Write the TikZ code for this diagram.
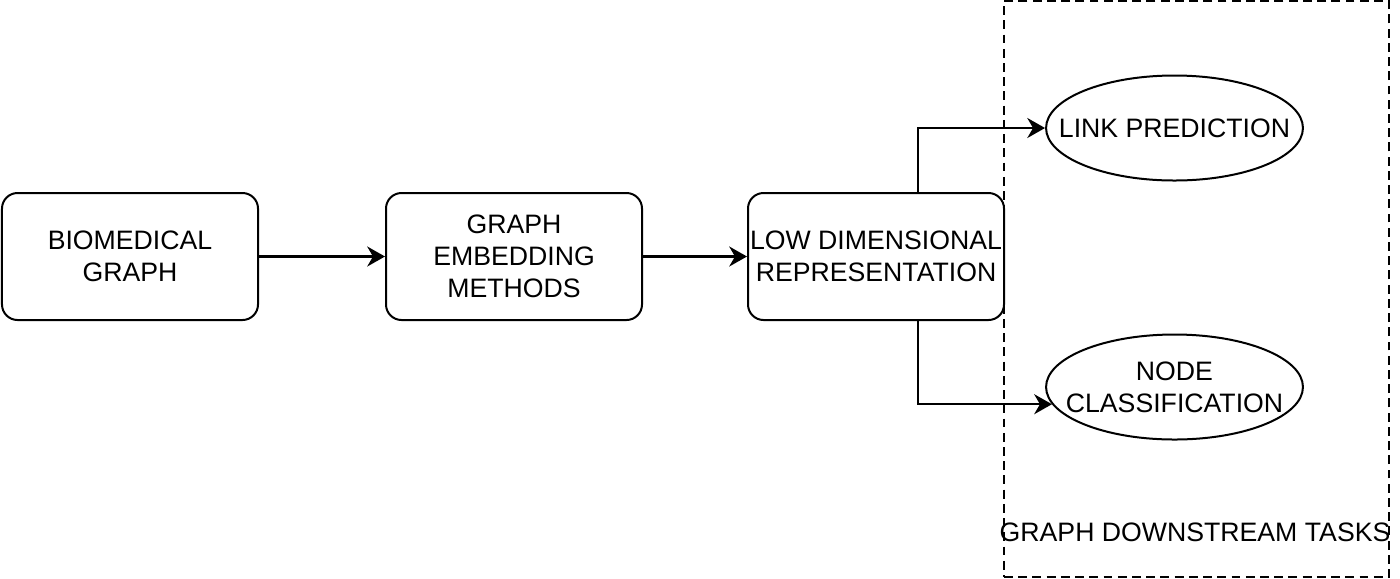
\documentclass[tikz,border=0pt]{standalone}
\usepackage{fontspec}
\setmainfont{Liberation Sans}
\usetikzlibrary{shapes.geometric, arrows.meta, positioning}
\tikzstyle{stage} = [rectangle, draw, line width=0.9pt, rounded corners=7pt, minimum width=115.2pt, minimum height=57.15pt, align=center, inner sep=0pt]
\tikzstyle{task} = [ellipse, draw, line width=0.9pt, minimum width=115.6pt, minimum height=47.25pt, inner sep=0pt]
\tikzstyle{group} = [rectangle, draw, line width=0.8pt, dash pattern=on 4pt off 2.4pt, minimum width=173.25pt, minimum height=259.2pt, inner sep=0pt]
\tikzstyle{flow} = [line width=1pt, -{Stealth[length=8pt, width=9pt, inset=2.6pt]}]

\begin{document}
\begin{tikzpicture}[x=0.45pt, y=-0.45pt, font=\fontsize{12}{14.4}\selectfont]
\useasboundingbox (0,0) rectangle (1400,578);
\node (downstream) [group] at (1196.5,289) {};
\node (graph) [stage] at (130,256.5) {BIOMEDICAL\\GRAPH};
\node (embed) [stage] at (514,256.5) {GRAPH\\EMBEDDING\\METHODS};
\node (repr) [stage] at (876,256.5) {LOW DIMENSIONAL\\REPRESENTATION};
\node (link) [task, label=center:{LINK PREDICTION}] at (1174.5,128) {};
\node (classif) [task, label={[align=center]center:NODE\\CLASSIFICATION}] at (1174.5,387) {};
\node (tasklabel) at (1195,532) {GRAPH DOWNSTREAM TASKS};
\draw [flow] (graph) -- (embed);
\draw [flow] (embed) -- (repr);
\draw [flow] ([xshift=18.9pt]repr.north) |- (link);
\draw [flow] ([xshift=18.9pt]repr.south) |- (classif.188.5);
\end{tikzpicture}
\end{document}
